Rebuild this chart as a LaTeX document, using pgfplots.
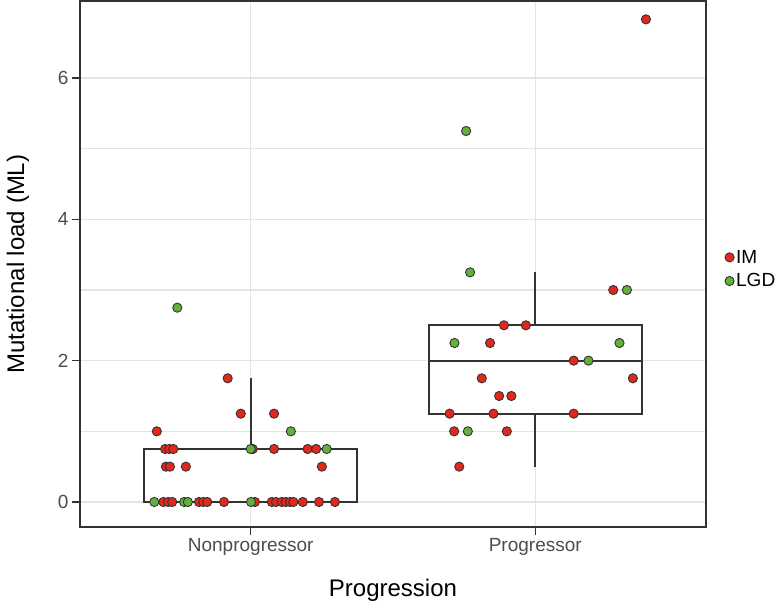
\documentclass[border=0pt]{standalone}
\usepackage{pgfplots}
\pgfplotsset{compat=1.18}
\usepgfplotslibrary{statistics}
\usepackage{fontspec}
\setmainfont{Liberation Sans}
\definecolor{imred}{RGB}{226,40,28}
\definecolor{lgdgreen}{RGB}{98,178,58}
\definecolor{gridc}{RGB}{228,228,228}
\definecolor{g20}{RGB}{51,51,51}
\definecolor{g30}{RGB}{77,77,77}
\begin{document}
\begin{tikzpicture}
\useasboundingbox (-80pt,-77pt) rectangle (699pt,527pt);
\begin{axis}[
  at={(0pt,0pt)}, anchor=south west,
  scale only axis, width=626pt, height=526pt,
  xmin=0.4, xmax=2.6, ymin=-0.354, ymax=7.09,
  xtick={1,2}, xticklabels={Nonprogressor,Progressor},
  ytick={0,2,4,6}, minor ytick={1,3,5},
  grid=both,
  major grid style={gridc, line width=1.5pt},
  minor grid style={gridc, line width=1.5pt},
  axis line style={g20, line width=1.5pt},
  tick style={g20, line width=1.2pt},
  major tick length=8pt, minor tick length=0pt,
  tick align=outside, xtick pos=left, ytick pos=left,
  ticklabel style={font=\fontsize{19}{22}\selectfont, text=g30},
  /pgf/number format/assume math mode=true,
  xlabel={Progression}, ylabel={Mutational load (ML)},
  label style={font=\fontsize{24}{28}\selectfont},
  xlabel style={at={(axis description cs:0.5,-0.133)}, anchor=base},
  ylabel style={at={(axis description cs:-0.099,0.5)}, anchor=center},
  legend style={at={(axis description cs:1.03,0.49)}, anchor=west, draw=none, fill=none,
    font=\fontsize{19}{22}\selectfont, row sep=5pt, inner xsep=0pt},
  legend cell align=left,
  boxplot/draw direction=y,
  boxplot/every box/.style={draw=g20, fill=white, line width=2pt},
  boxplot/every whisker/.style={draw=g20, line width=2pt},
  boxplot/every median/.style={draw=g20, line width=2pt},
]
\addplot[forget plot, boxplot prepared={draw position=1, median=0, lower quartile=0,
  upper quartile=0.75, lower whisker=0, upper whisker=1.75, box extend=0.75, whisker extend=0},
  draw=g20, fill=white, line width=2pt, mark=none, solid] coordinates {};
\addplot[forget plot, boxplot prepared={draw position=2, median=2, lower quartile=1.25,
  upper quartile=2.5, lower whisker=0.5, upper whisker=3.25, box extend=0.75, whisker extend=0},
  draw=g20, fill=white, line width=2pt, mark=none, solid] coordinates {};
\addplot[only marks, mark=*, mark size=4.6pt, mark options={fill=imred, draw=black!80, line width=0.9pt}] coordinates {
(0.919,1.75) (0.965,1.25) (1.082,1.25) (0.670,1.0)
(0.699,0.75) (0.714,0.75) (0.728,0.75) (1.007,0.75) (1.082,0.75) (1.200,0.75) (1.230,0.75)
(0.702,0.5) (0.716,0.5) (0.772,0.5) (1.250,0.5)
(0.693,0) (0.710,0) (0.724,0) (0.818,0) (0.833,0) (0.847,0) (0.906,0) (1.015,0) (1.074,0)
(1.089,0) (1.109,0) (1.123,0) (1.138,0) (1.150,0) (1.183,0) (1.240,0) (1.296,0)
(2.389,6.83) (2.274,3) (1.890,2.5) (1.967,2.5) (1.841,2.25) (2.135,2.0)
(1.812,1.75) (2.343,1.75) (1.873,1.5) (1.916,1.5) (1.699,1.25) (1.853,1.25) (2.135,1.25)
(1.715,1.0) (1.900,1.0) (1.733,0.5)
};
\addlegendentry{IM}
\addplot[only marks, mark=*, mark size=4.6pt, mark options={fill=lgdgreen, draw=black!80, line width=0.9pt}] coordinates {
(0.742,2.75) (1.141,1.0) (1.000,0.75) (1.267,0.75) (0.661,0) (0.766,0) (0.779,0) (1.001,0)
(1.757,5.25) (1.771,3.25) (2.322,3) (1.716,2.25) (2.296,2.25) (2.187,2.0) (1.763,1.0)
};
\addlegendentry{LGD}
\end{axis}
\end{tikzpicture}
\end{document}
